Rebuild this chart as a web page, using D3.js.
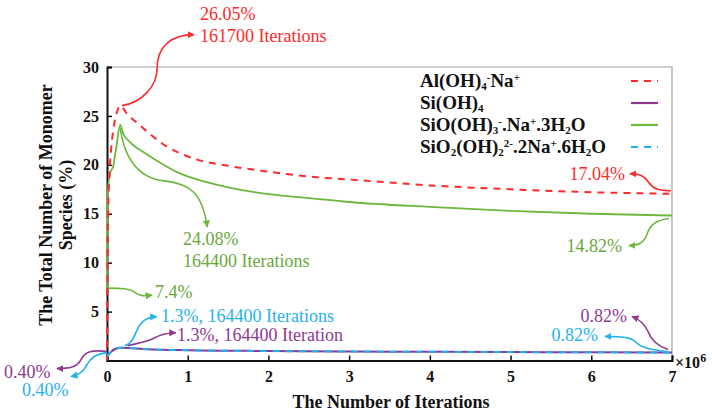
<!DOCTYPE html>
<html><head><meta charset="utf-8">
<script src="https://cdn.jsdelivr.net/npm/d3@7/dist/d3.min.js"></script>
<style>body{margin:0;background:#fff}svg{display:block}svg text{font-family:"Liberation Serif","Times New Roman","DejaVu Serif",serif !important}</style>
</head><body>
<svg id="c" width="712" height="418" font-family="Liberation Serif, serif"></svg>
<script>
// ---- data (x in millions of iterations, y in %) ----
const alX = [0, 0.005, 0.015, 0.03, 0.05, 0.08, 0.12, 0.1617, 0.25, 0.4, 0.68, 1.09, 1.5, 2, 2.5, 3, 4, 5, 6, 7];
const alY = [0, 8, 15, 19, 21.5, 23.7, 25.3, 26.05, 25.2, 24.1, 22.2, 20.6, 19.9, 19.3, 18.8, 18.5, 17.9, 17.5, 17.2, 17.04];
const greenX = [0, 0.003, 0.01, 0.02, 0.04, 0.075, 0.11, 0.1644, 0.2, 0.3, 0.47, 0.7, 0.88, 1.2, 1.5, 2, 2.5, 3, 4, 5, 6, 7];
const greenY = [7.4, 14, 17, 18.2, 19.2, 19.8, 21.5, 24.08, 23.2, 22.2, 21.2, 20.0, 19.2, 18.3, 17.7, 17.0, 16.6, 16.2, 15.7, 15.3, 15.0, 14.82];
const siX = [0, 0.05, 0.1644, 0.5, 1, 2, 3, 4, 5, 6, 7];
const siY = [0.40, 0.9, 1.3, 1.15, 1.05, 0.97, 0.92, 0.89, 0.86, 0.84, 0.82];
const si2X = [0, 0.05, 0.1644, 0.5, 1, 2, 3, 4, 5, 6, 7];
const si2Y = [0.40, 0.9, 1.3, 1.15, 1.05, 0.97, 0.92, 0.89, 0.86, 0.84, 0.82];
const xTicks = [0, 1, 2, 3, 4, 5, 6, 7];
const yTicks = [0, 5, 10, 15, 20, 25, 30];

const RED = "#ff2a2a", GREEN = "#6cb83f", PURPLE = "#8d3a93", CYAN = "#1fb2ee";
const GREENTXT = "#6aa83c";

const svg = d3.select("#c");
const L = 107, R = 672, T = 67, B = 360.5;
const x = d3.scaleLinear().domain([0, 7]).range([L, R]);
const y = d3.scaleLinear().domain([0, 30]).range([B, T]);

// markers
const defs = svg.append("defs");
[["r", RED], ["g", GREEN], ["p", PURPLE], ["c", CYAN]].forEach(([id, col]) => {
  defs.append("marker").attr("id", "m" + id).attr("viewBox", "0 0 10 10")
    .attr("refX", 9).attr("refY", 5).attr("markerWidth", 4.5).attr("markerHeight", 4.5)
    .attr("orient", "auto").attr("markerUnits", "strokeWidth")
    .append("path").attr("d", "M0,0 L10,5 L0,10 z").attr("fill", col);
});

// frame (top/right grey)
svg.append("path").attr("d", `M${L},${T} H${R} V${B}`).attr("fill", "none").attr("stroke", "#a0a0a0").attr("stroke-width", 1.2);

// axes
const xAxis = d3.axisBottom(x).tickValues(xTicks).tickSize(-5).tickPadding(0).tickFormat(d3.format("d"));
const gx = svg.append("g").attr("transform", `translate(0,${B})`).call(xAxis).attr("font-family", null);
gx.select(".domain").attr("stroke", "#111").attr("stroke-width", 2);
gx.selectAll(".tick line").attr("stroke", "#111").attr("stroke-width", 1.5);
gx.selectAll(".tick text").attr("y", 21).attr("font-size", 16).attr("font-weight", "bold").attr("fill", "#111").attr("dy", 0);

const yAxis = d3.axisLeft(y).tickValues(yTicks.filter(d => d > 0)).tickSize(-5).tickPadding(0);
const gy = svg.append("g").attr("transform", `translate(${L},0)`).call(yAxis).attr("font-family", null);
gy.select(".domain").attr("stroke", "#111").attr("stroke-width", 2);
gy.selectAll(".tick line").attr("stroke", "#111").attr("stroke-width", 1.5);
gy.selectAll(".tick text").attr("x", -8).attr("font-size", 16).attr("font-weight", "bold").attr("fill", "#111");

// ×10^6
const ex = svg.append("text").attr("x", R + 3).attr("y", 368).attr("font-size", 16).attr("font-weight", "bold").attr("fill", "#111");
ex.append("tspan").text("×10");
ex.append("tspan").attr("dy", -6).attr("font-size", 12).text("6");

// axis titles
svg.append("text").attr("x", 391).attr("y", 408).attr("text-anchor", "middle")
  .attr("font-size", 18).attr("font-weight", "bold").attr("fill", "#111").text("The Number of Iterations");
const yt = svg.append("text").attr("transform", "translate(52,205) rotate(-90)").attr("text-anchor", "middle")
  .attr("font-size", 18).attr("font-weight", "bold").attr("fill", "#111");
yt.append("tspan").attr("x", 0).attr("y", 0).text("The Total Number of Monomer");
yt.append("tspan").attr("x", 0).attr("y", 20).text("Species (%)");

// lines
const line = d3.line().x(d => x(d[0])).y(d => y(d[1])).curve(d3.curveMonotoneX);
const zip = (a, b) => a.map((v, i) => [v, b[i]]);
svg.append("path").attr("d", line(zip(greenX, greenY))).attr("fill", "none").attr("stroke", GREEN).attr("stroke-width", 1.8);
svg.append("path").attr("d", line(zip(alX, alY))).attr("fill", "none").attr("stroke", RED).attr("stroke-width", 2).attr("stroke-dasharray", "7,6");
svg.append("path").attr("d", line(zip(siX, siY))).attr("fill", "none").attr("stroke", PURPLE).attr("stroke-width", 2);
svg.append("path").attr("d", line(zip(si2X, si2Y))).attr("fill", "none").attr("stroke", CYAN).attr("stroke-width", 2).attr("stroke-dasharray", "7,6");

// legend
const leg = [
  {col: RED, dash: "7,6", parts: [["Al(OH)"], ["4", "sub"], ["-", "sup"], ["Na"], ["+", "sup"]]},
  {col: PURPLE, dash: null, parts: [["Si(OH)"], ["4", "sub"]]},
  {col: GREEN, dash: null, parts: [["SiO(OH)"], ["3", "sub"], ["-", "sup"], [".Na"], ["+", "sup"], [".3H"], ["2", "sub"], ["O"]]},
  {col: CYAN, dash: "7,6", parts: [["SiO"], ["2", "sub"], ["(OH)"], ["2", "sub"], ["2-", "sup"], [".2Na"], ["+", "sup"], [".6H"], ["2", "sub"], ["O"]]}
];
leg.forEach((d, i) => {
  const yy = 87 + i * 22;
  const t = svg.append("text").attr("x", 420).attr("y", yy).attr("font-size", 19).attr("font-weight", "bold").attr("fill", "#111");
  let cur = 0;
  d.parts.forEach(([s, k]) => {
    const off = k === "sub" ? 3 : k === "sup" ? -6 : 0;
    const ts = t.append("tspan").attr("dy", off - cur).text(s);
    if (k) ts.attr("font-size", 11);
    cur = off;
  });
  const ly = yy - 6;
  svg.append("line").attr("x1", 631).attr("x2", 658).attr("y1", ly).attr("y2", ly)
    .attr("stroke", d.col).attr("stroke-width", 2.2).attr("stroke-dasharray", d.dash);
});

// annotations: anchor in data coords, path offsets in px relative to anchor
function arrow(ax, ay, dx0, dy0, segs, col, m) {
  const px = x(ax) + dx0, py = y(ay) + dy0;
  const d = `M${px},${py} ` + segs.map(s => "C" + s.map((v, j) => (j % 2 ? py + v : px + v)).join(",")).join(" ");
  svg.append("path").attr("d", d).attr("fill", "none").attr("stroke", col).attr("stroke-width", 1.6).attr("marker-end", `url(#m${m})`);
}
function label(tx, ty, lines, col, anchor) {
  const t = svg.append("text").attr("x", tx).attr("y", ty).attr("font-size", 18).attr("fill", col).attr("text-anchor", anchor || "start");
  lines.forEach((s, i) => t.append("tspan").attr("x", tx).attr("dy", i ? 22 : 0).text(s));
}
// red peak
arrow(0.1617, 26.05, 2, 0, [[20, -3, 35, -20, 35, -37], [35, -60, 50, -71, 72, -71]], RED, "r");
label(200, 20, ["26.05%", "161700 Iterations"], RED);
// red end
arrow(7, 17.04, -1, -3, [[-12, 0, -18, -2, -22, -8], [-26, -14, -30, -17, -41, -17]], RED, "r");
label(625, 180, ["17.04%"], RED, "end");
// green peak
arrow(0.1644, 24.08, 0, 3, [[3, 25, 15, 50, 44, 53], [70, 56, 82, 65, 87, 99]], GREEN, "g");
label(183, 245, ["24.08%", "164400 Iterations"], GREENTXT);
// green end
arrow(7, 14.82, -3, 3, [[-15, 2, -20, 8, -22, 16], [-25, 24, -30, 27, -40, 27]], GREEN, "g");
label(622, 252, ["14.82%"], GREENTXT, "end");
// green start
arrow(0, 7.4, 1, 0, [[12, 0, 22, 0, 28, 5], [32, 8, 36, 8, 44, 7]], GREEN, "g");
label(155, 298, ["7.4%"], GREENTXT);
// cyan peak
arrow(0.22, 1.3, 0, -2, [[10, -3, 10, -15, 16, -22], [20, -27, 24, -29, 32, -29]], CYAN, "c");
label(161, 322, ["1.3%, 164400 Iterations"], CYAN);
// purple peak
arrow(0.22, 1.3, 3, -2, [[12, -3, 18, -4, 25, -7], [32, -11, 38, -13, 48, -13]], PURPLE, "p");
label(177, 341, ["1.3%, 164400 Iteration"], PURPLE);
// purple start
arrow(0, 0.4, 0, -5, [[-15, -2, -22, 0, -26, 8], [-30, 16, -38, 17, -50, 17]], PURPLE, "p");
label(4, 378, ["0.40%"], PURPLE);
// cyan start
arrow(0, 0.4, 0, -4, [[-12, 2, -16, 5, -20, 12], [-24, 20, -28, 22, -36, 24]], CYAN, "c");
label(22, 396, ["0.40%"], CYAN);
// purple end
arrow(7, 0.82, -4, -3, [[-12, -4, -17, -10, -20, -18], [-24, -26, -28, -30, -36, -33]], PURPLE, "p");
label(627, 322, ["0.82%"], PURPLE, "end");
// cyan end
arrow(7, 0.82, -5, -1, [[-18, -2, -26, -4, -32, -10], [-36, -14, -44, -15, -62, -15]], CYAN, "c");
label(598, 341, ["0.82%"], CYAN, "end");
</script>
</body></html>
